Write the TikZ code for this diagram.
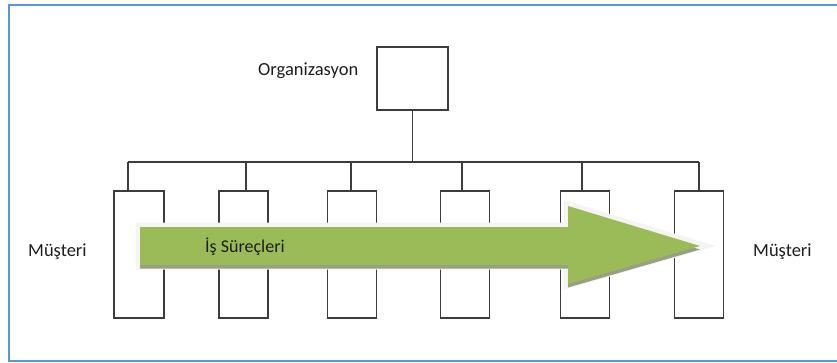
\documentclass[tikz,border=0pt]{standalone}
\usepackage{fontspec}
\setmainfont{Carlito}
\definecolor{framecol}{RGB}{91,150,214}
\definecolor{linecol}{RGB}{60,60,60}
\definecolor{arrowgreen}{RGB}{155,187,89}
\definecolor{arrowshadow}{RGB}{150,160,130}
\definecolor{glowcol}{RGB}{244,244,244}
\definecolor{txtcol}{RGB}{30,30,30}
\begin{document}
\begin{tikzpicture}[x=1pt,y=-1pt,
  unitbox/.style={draw=linecol,line width=1.2pt,fill=white,minimum width=49pt,minimum height=127pt,inner sep=0pt},
  orgbox/.style={draw=linecol,line width=1.2pt,minimum width=71pt,minimum height=63pt,inner sep=0pt},
  link/.style={draw=linecol,line width=1.2pt},
  lbl/.style={text=txtcol,font=\fontsize{18.5}{21}\selectfont,inner sep=0pt}]
\useasboundingbox (0,0) rectangle (837,362);
% outer frame, its right side runs past the page edge
\draw[framecol,line width=2pt] (845,5) -- (9,5) -- (9,361) -- (845,361);

% organisation box and the units below it
\node[orgbox] (org) at (412.5,78.5) {};
\node[unitbox,minimum width=50pt] (b1) at (139,254.5) {};
\node[unitbox] (b2) at (243.5,254.5) {};
\node[unitbox] (b3) at (352.3,254.5) {};
\node[unitbox] (b4) at (465,254.5) {};
\node[unitbox] (b5) at (585,254.5) {};
\node[unitbox] (b6) at (698.8,254.5) {};

% distribution bus
\coordinate (j1) at (128,162);
\coordinate (j2) at (246,162);
\coordinate (j3) at (351,162);
\coordinate (j4) at (462,162);
\coordinate (j5) at (582,162);
\coordinate (j6) at (699,162);
\path[link] (j1) -- (j6);
\path[link] (org.south) -- (org.south |- j1);
\foreach \i in {1,...,6}{
  \path[link] (j\i) -- (j\i |- b\i.north);
}

% process arrow: glow, shadow, body
\def\arrowpath{(140,227) -- (568,227) -- (568,206) -- (700,246) -- (568,284) -- (568,265) -- (140,265) -- cycle}
\draw[glowcol,line width=9pt,line join=miter,fill=glowcol] \arrowpath;
\fill[arrowshadow,shift={(0,3.5)}] \arrowpath;
\fill[arrowgreen] \arrowpath;

% labels
\node[lbl,anchor=west] (org-l) at (258,71) {Organizasyon};
\node[lbl,anchor=west] (c-left) at (28,252) {Müşteri};
\node[lbl,anchor=west] (c-right) at (753,252) {Müşteri};
\node[lbl,anchor=west,font=\fontsize{18}{21}\selectfont] (proc) at (205,247) {İş Süreçleri};
\end{tikzpicture}
\end{document}
